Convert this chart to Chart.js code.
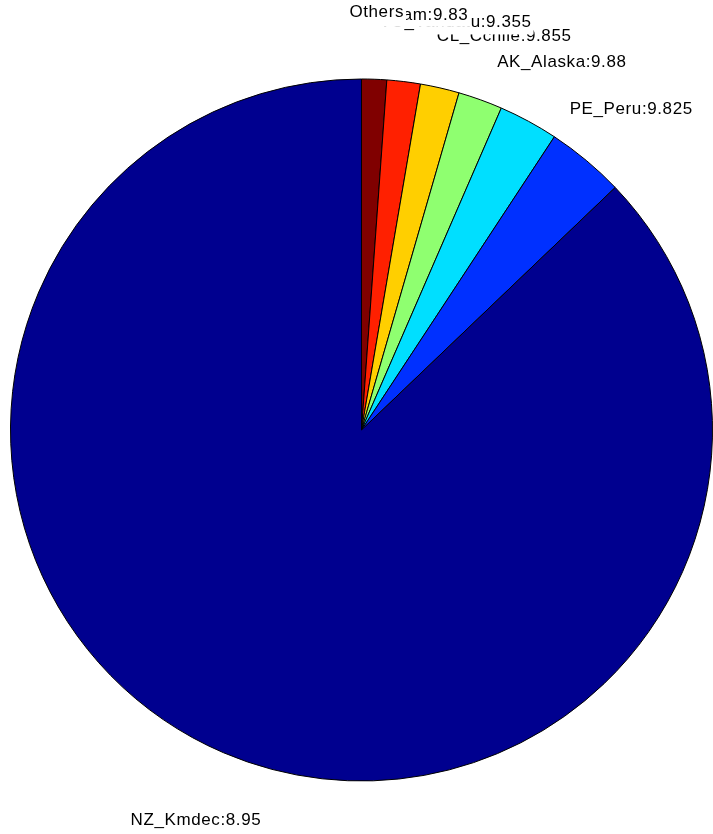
<!DOCTYPE html>
<html>
<head>
<meta charset="utf-8">
<script src="https://cdn.jsdelivr.net/npm/chart.js@4"></script>
<style>
  html, body { margin: 0; padding: 0; background: #fff; }
  #wrap { width: 713px; height: 834px; position: relative; }
</style>
</head>
<body>
<div id="wrap"><canvas id="pie"></canvas></div>
<script>
// slices clockwise from 12 o'clock (share of the pie, %)
const sliceNames = ['Others', 'KR_Kam', 'VU_Vanuatu', 'CL_Cchile', 'AK_Alaska', 'PE_Peru', 'NZ_Kmdec'];
const sliceShares = [1.15, 1.54, 1.79, 2.04, 2.74, 3.60, 87.14];
const sliceTags = ['', '9.83', '9.355', '9.855', '9.88', '9.825', '8.95'];
const sliceColors = ['#800000', '#FF2000', '#FFCF00', '#8FFF70', '#00DFFF', '#0030FF', '#00008F'];

const pieLabels = {
  id: 'pieLabels',
  afterDraw(chart) {
    const ctx = chart.ctx;
    const meta = chart.getDatasetMeta(0);
    ctx.save();
    ctx.font = '17px "Liberation Sans", Arial, sans-serif';
    ctx.letterSpacing = '0.6px';
    ctx.textAlign = 'center';
    ctx.textBaseline = 'middle';
    // big slice first, so the crowded small-slice labels pile on top of each other
    for (let i = meta.data.length - 1; i >= 0; i--) {
      const arc = meta.data[i];
      const mid = (arc.startAngle + arc.endAngle) / 2;
      const r = arc.outerRadius * 1.2;
      const x = arc.x + Math.cos(mid) * r;
      const y = arc.y + Math.sin(mid) * r + 3;
      const txt = sliceTags[i] ? sliceNames[i] + ':' + sliceTags[i] : sliceNames[i];
      const w = ctx.measureText(txt).width;
      ctx.fillStyle = '#fff';
      ctx.fillRect(x - w / 2 - 2, y - 10, w + 4, 22);
      ctx.fillStyle = '#000';
      ctx.fillText(txt, x, y);
    }
    ctx.restore();
  }
};

new Chart(document.getElementById('pie').getContext('2d'), {
  type: 'pie',
  data: {
    labels: sliceNames,
    datasets: [{
      data: sliceShares,
      backgroundColor: sliceColors,
      borderColor: '#000',
      borderWidth: 1
    }]
  },
  options: {
    responsive: true,
    maintainAspectRatio: false,
    animation: false,
    layout: { padding: { top: 77, bottom: 51, left: 10, right: 0 } },
    plugins: {
      legend: { display: false },
      tooltip: { enabled: false }
    }
  },
  plugins: [pieLabels]
});
</script>
</body>
</html>
